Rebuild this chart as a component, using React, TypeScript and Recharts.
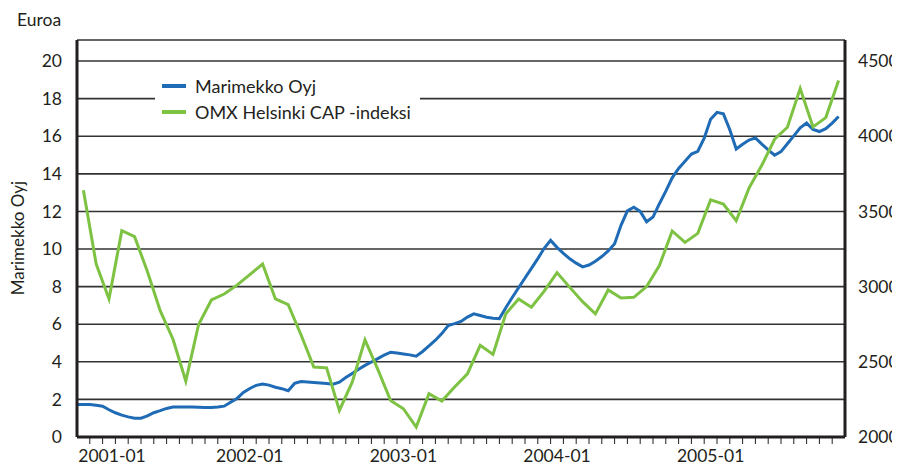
import { LineChart, Line, XAxis, YAxis, CartesianGrid, Legend, Label } from "recharts";

// kuukaudet 2000-12 ... 2005-11
const months = [
  "2000-12",
  "2001-01", "2001-02", "2001-03", "2001-04", "2001-05", "2001-06", "2001-07", "2001-08", "2001-09", "2001-10", "2001-11", "2001-12",
  "2002-01", "2002-02", "2002-03", "2002-04", "2002-05", "2002-06", "2002-07", "2002-08", "2002-09", "2002-10", "2002-11", "2002-12",
  "2003-01", "2003-02", "2003-03", "2003-04", "2003-05", "2003-06", "2003-07", "2003-08", "2003-09", "2003-10", "2003-11", "2003-12",
  "2004-01", "2004-02", "2004-03", "2004-04", "2004-05", "2004-06", "2004-07", "2004-08", "2004-09", "2004-10", "2004-11", "2004-12",
  "2005-01", "2005-02", "2005-03", "2005-04", "2005-05", "2005-06", "2005-07", "2005-08", "2005-09", "2005-10", "2005-11",
];

// OMX Helsinki CAP, kuukausittain
const omx = [
  3641, 3150, 2918, 3372, 3332, 3100, 2840, 2650, 2372, 2748, 2911, 2951, 3010, 3080, 3150,
  2918, 2880, 2680, 2465, 2460, 2177, 2365, 2646, 2450, 2243, 2188, 2066, 2288, 2239, 2332,
  2420, 2610, 2549, 2819, 2918, 2863, 2970, 3093, 2995, 2900, 2819, 2978, 2925, 2929, 3000,
  3140, 3370, 3294, 3354, 3577, 3549, 3438, 3655, 3807, 3980, 4060, 4318, 4062, 4124, 4371,
];

// Marimekko Oyj, euroa, puolen kuukauden välein (kuun puoliväli ja kuun loppu)
const marimekko = [
  1.73, 1.73, 1.73, 1.69, 1.64, 1.45, 1.29, 1.16, 1.07, 1.0, 1.0, 1.12,
  1.29, 1.4, 1.52, 1.59, 1.59, 1.59, 1.59, 1.58, 1.57, 1.57, 1.6, 1.64,
  1.85, 2.05, 2.37, 2.58, 2.75, 2.82, 2.76, 2.65, 2.57, 2.46, 2.85, 2.95,
  2.93, 2.9, 2.87, 2.84, 2.81, 2.92, 3.16, 3.38, 3.6, 3.81, 3.99, 4.17,
  4.36, 4.51, 4.47, 4.42, 4.37, 4.3, 4.55, 4.85, 5.15, 5.5, 5.93, 6.03,
  6.15, 6.38, 6.55, 6.46, 6.37, 6.32, 6.3, 6.88, 7.42, 7.94, 8.46, 8.97,
  9.49, 10.04, 10.46, 10.09, 9.77, 9.48, 9.25, 9.05, 9.15, 9.35, 9.6, 9.9,
  10.28, 11.26, 12.03, 12.22, 12.0, 11.45, 11.7, 12.41, 13.08, 13.79, 14.29, 14.67,
  15.05, 15.2, 15.9, 16.9, 17.27, 17.19, 16.35, 15.32, 15.57, 15.8, 15.91, 15.58,
  15.28, 14.99, 15.18, 15.6, 16.02, 16.45, 16.7, 16.36, 16.25, 16.4, 16.7, 17.05,
];

const leftTicks = [0, 2, 4, 6, 8, 10, 12, 14, 16, 18, 20];
const rightTicks = [2000, 2500, 3000, 3500, 4000, 4500];

const INK = "#231f20";
const BLUE = "#1f6bb5";
const GREEN = "#7dc242";
const FONT = "Lato, 'Open Sans', sans-serif";

const PLOT_LEFT = 77;

const omxData = omx.map((v, i) => ({ x: i, omx: v }));
const blueData = marimekko.map((v, k) => ({ x: k / 2 - 0.5, marimekko: v }));

// väliviivat kuukausien väliin, tekstit tammikuille
const labelIdx = months.map((m, i) => (m.endsWith("-01") ? i : -1)).filter((i) => i >= 0);
const xTicks = [...months.slice(1).map((_, i) => i + 0.5), ...labelIdx].sort((a, b) => a - b);

function XTick(props: any) {
  const { x, y, payload } = props;
  const v = payload.value as number;
  if (!Number.isInteger(v)) {
    return <line x1={x} x2={x} y1={y} y2={y + 7} stroke={INK} strokeWidth={1} />;
  }
  const cx = Math.max(x, PLOT_LEFT + 35);
  return (
    <text x={cx} y={y + 25} textAnchor="middle" fill={INK} fontSize={17.5} fontFamily={FONT}>
      {months[v]}
    </text>
  );
}

function LegendBox(props: any) {
  const { payload } = props;
  return (
    <div
      style={{
        background: "#fff",
        width: 265,
        height: 64,
        boxSizing: "border-box",
        padding: "7px 0 0 7px",
        fontFamily: FONT,
        fontSize: 18,
        color: INK,
      }}
    >
      {(payload || []).map((p: any) => (
        <div key={p.value} style={{ display: "flex", alignItems: "center", height: 26 }}>
          <span style={{ display: "inline-block", width: 24, height: 4, background: p.color, marginRight: 9 }} />
          <span>{p.value}</span>
        </div>
      ))}
    </div>
  );
}

export default function App() {
  return (
    <div style={{ width: 900, height: 470, margin: -8, background: "#fff" }}>
      <LineChart width={900} height={470} margin={{ top: 40, right: 0, bottom: 0, left: 0 }}>
        <CartesianGrid yAxisId="left" vertical={false} stroke="#333" strokeWidth={1.6} />
        <XAxis
          dataKey="x"
          type="number"
          domain={[-0.5, 59.5]}
          ticks={xTicks}
          interval={0}
          height={33}
          axisLine={{ stroke: INK, strokeWidth: 3 }}
          tickLine={false}
          tickSize={0}
          tickMargin={0}
          tick={XTick}
        />
        <YAxis
          yAxisId="left"
          width={77}
          domain={[0, 21.12]}
          ticks={leftTicks}
          interval={0}
          axisLine={{ stroke: INK, strokeWidth: 3 }}
          tickLine={false}
          tickSize={0}
          tickMargin={15}
          tick={{ fill: INK, fontSize: 17.5, fontFamily: FONT }}
        >
          <Label
            content={() => (
              <text x={17} y={26} fill={INK} fontSize={17.5} fontFamily={FONT}>
                Euroa
              </text>
            )}
          />
          <Label
            content={() => (
              <text
                x={0}
                y={0}
                transform="translate(24 238) rotate(-90)"
                textAnchor="middle"
                fill={INK}
                fontSize={17}
                fontFamily={FONT}
              >
                Marimekko Oyj
              </text>
            )}
          />
        </YAxis>
        <YAxis
          yAxisId="right"
          orientation="right"
          width={55}
          domain={[2000, 4640]}
          ticks={rightTicks}
          interval={0}
          axisLine={{ stroke: INK, strokeWidth: 3 }}
          tickLine={false}
          tickSize={0}
          tickMargin={13}
          tick={{ fill: INK, fontSize: 17.5, fontFamily: FONT, textAnchor: "start" }}
        />
        <Legend
          layout="vertical"
          align="center"
          verticalAlign="middle"
          wrapperStyle={{ left: 155, top: 66, width: 265, height: 64 }}
          content={LegendBox}
        />
        <Line
          yAxisId="left"
          data={blueData}
          dataKey="marimekko"
          name="Marimekko Oyj"
          stroke={BLUE}
          strokeWidth={3}
          dot={false}
          activeDot={false}
          isAnimationActive={false}
        />
        <Line
          yAxisId="right"
          data={omxData}
          dataKey="omx"
          name="OMX Helsinki CAP -indeksi"
          stroke={GREEN}
          strokeWidth={3}
          dot={false}
          activeDot={false}
          isAnimationActive={false}
        />
      </LineChart>
    </div>
  );
}
